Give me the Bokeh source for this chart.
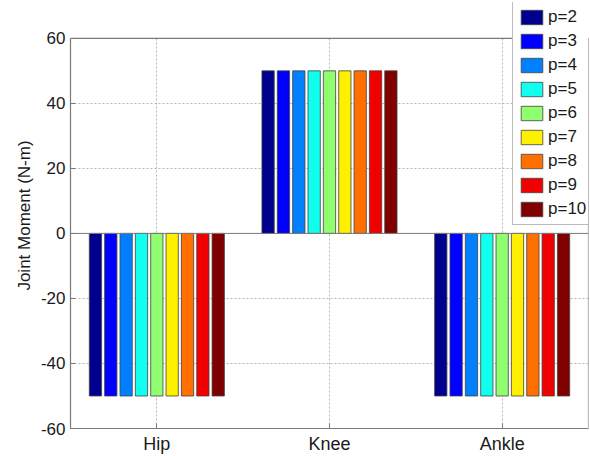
from bokeh.plotting import figure
from bokeh.models import Legend, LegendItem, FixedTicker, Span
from bokeh.transform import dodge
from bokeh.embed import file_html
from bokeh.resources import INLINE

categories = ["Hip", "Knee", "Ankle"]
series_labels = ["p=2", "p=3", "p=4", "p=5", "p=6", "p=7", "p=8", "p=9", "p=10"]
values_p2 = [-50, 50, -50]
values_p3 = [-50, 50, -50]
values_p4 = [-50, 50, -50]
values_p5 = [-50, 50, -50]
values_p6 = [-50, 50, -50]
values_p7 = [-50, 50, -50]
values_p8 = [-50, 50, -50]
values_p9 = [-50, 50, -50]
values_p10 = [-50, 50, -50]
series_values = [values_p2, values_p3, values_p4, values_p5, values_p6,
                 values_p7, values_p8, values_p9, values_p10]
colors = ["#00008F", "#0000FF", "#0080FF", "#10FFEF", "#8FFF70",
          "#FFF000", "#FF7000", "#F00000", "#800000"]
y_ticks = [-60, -40, -20, 0, 20, 40, 60]
x_lo, x_hi = 0.5, 3.5
y_lo, y_hi = -60, 60

FONT = "Liberation Sans"
AX = "#7a7a7a"

# frame extends above the axes box so the legend can overlap the top edge
W, H = 590, 456
top_px, bottom_px, left_px, right_px = 2, 26, 70, 2
box_top_px = 38
frame_h = H - top_px - bottom_px
box_h = frame_h - (box_top_px - top_px)
y_end = y_hi + (box_top_px - top_px) * (y_hi - y_lo) / box_h

p = figure(width=W, height=H, x_range=(x_lo, x_hi), y_range=(y_lo, y_end),
           output_backend="svg", toolbar_location=None,
           min_border_left=left_px, min_border_top=top_px,
           min_border_bottom=bottom_px, min_border_right=right_px)

xs = [1, 2, 3]
n = len(series_values)
group_w = 0.8
pitch = group_w / n
bar_w = pitch * 0.8
items = []
for i, (vals, lab, col) in enumerate(zip(series_values, series_labels, colors)):
    off = (i - (n - 1) / 2) * pitch
    r = p.vbar(x=dodge("x", off), top="top", bottom=0, width=bar_w,
               source=dict(x=xs, top=vals), fill_color=col,
               line_color="#404040", line_width=0.8)
    items.append(LegendItem(label=lab, renderers=[r]))

p.add_layout(Span(location=0, dimension="width", line_color=AX, line_width=1))
# axes box: top and right edges
p.segment(x0=[x_lo, x_hi], y0=[y_hi, y_lo], x1=[x_hi, x_hi], y1=[y_hi, y_hi],
          line_color=AX, line_width=1.2)

p.xaxis.ticker = FixedTicker(ticks=xs)
p.xaxis.major_label_overrides = {x: c for x, c in zip(xs, categories)}
p.yaxis.ticker = FixedTicker(ticks=y_ticks)
p.yaxis.major_label_overrides = {t: str(t) for t in y_ticks}
p.yaxis.bounds = (y_lo, y_hi)

for ax in (p.xaxis[0], p.yaxis[0]):
    ax.axis_line_color = AX
    ax.axis_line_width = 1.2
    ax.major_tick_line_color = AX
    ax.major_tick_in = 5
    ax.major_tick_out = 0
    ax.minor_tick_line_color = None
    ax.major_label_text_font = FONT
    ax.major_label_text_font_size = "17px"
    ax.major_label_text_color = "#1a1a1a"
    ax.major_label_standoff = 5
p.xaxis.major_label_text_font_size = "18px"

p.yaxis.axis_label = "Joint Moment (N-m)"
p.yaxis.axis_label_text_font = FONT
p.yaxis.axis_label_text_font_size = "17px"
p.yaxis.axis_label_text_font_style = "normal"
p.yaxis.axis_label_text_color = "#1a1a1a"
p.yaxis.axis_label_standoff = 4

p.grid.grid_line_color = "#b5b5b5"
p.grid.grid_line_dash = "2 2"
p.grid.grid_line_width = 1
p.xgrid.cross_bounds = (y_lo, y_hi)
p.outline_line_color = None
p.background_fill_color = "white"
p.border_fill_color = "white"

legend = Legend(items=items, location=(442, 203), orientation="vertical",
                border_line_color=AX, border_line_width=1,
                background_fill_color="white", background_fill_alpha=1,
                padding=5, spacing=4, margin=0,
                glyph_width=27, glyph_height=18, label_standoff=3,
                label_text_font=FONT, label_text_font_size="17px",
                label_text_color="#1a1a1a")
p.add_layout(legend)

open("out.html", "w").write(file_html(p, INLINE))
